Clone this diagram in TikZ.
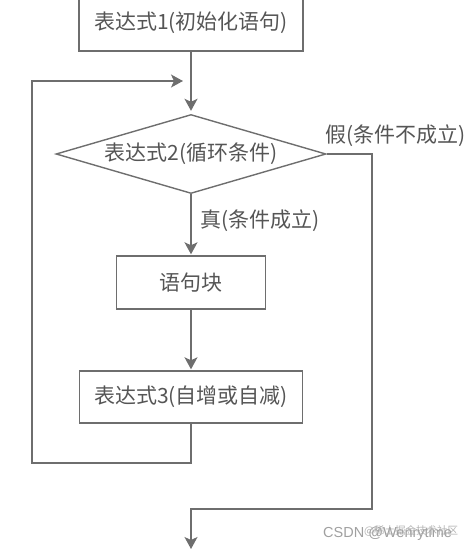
\documentclass[tikz,border=0pt]{standalone}
\usepackage{fontspec}
\setmainfont{Noto Sans CJK SC}
\newfontfamily\wmfont{Liberation Sans}
\newfontfamily\wmcjk{Noto Sans CJK SC}
\usetikzlibrary{arrows.meta,shapes.geometric}
\definecolor{linegray}{HTML}{6E6E6E}
\definecolor{textgray}{HTML}{555555}
\definecolor{wmgray}{HTML}{A0A0A0}
\begin{document}
\begin{tikzpicture}[x=1pt,y=-1pt,
  box/.style={draw=linegray,line width=1.4pt,text=textgray,font=\fontsize{21}{23}\selectfont,inner sep=0pt},
  link/.style={draw=linegray,line width=1.4pt},
  arr/.style={link,-{Stealth[length=12pt,width=13pt,inset=3pt]}},
  lbl/.style={text=textgray,font=\fontsize{21}{23}\selectfont,inner sep=0pt}]
\useasboundingbox (0,0) rectangle (464,551);
\node[box,minimum width=224pt,minimum height=56pt] (e1) at (191,23) {表达式1(初始化语句)};
\node[box,diamond,aspect=3.42,minimum width=270pt,minimum height=79pt] (d) at (191,154) {表达式2(循环条件)};
\node[box,minimum width=149pt,minimum height=53pt] (b) at (191,282.5) {语句块};
\node[box,minimum width=223pt,minimum height=52pt] (e3) at (191,397) {表达式3(自增或自减)};
\node[lbl,anchor=west] (t) at (200,221) {真(条件成立)};
\node[lbl,anchor=west] (f) at (325,136) {假(条件不成立)};
\coordinate (loopend) at (183,81);
\coordinate (exitend) at (191,549);
\draw[arr] (e1.south) -- ([yshift=3pt]d.north);
\draw[arr] (d.south) -- ([yshift=1pt]b.north);
\draw[arr] (b.south) -- ([yshift=1pt]e3.north);
\draw[arr] (e3.south) |- (32,463) |- (loopend);
\draw[arr] (d.east) -| (372,509) -| (exitend);
\node[text=wmgray,font=\wmfont\fontsize{14.5}{16}\selectfont,inner sep=0pt,anchor=west] (wm) at (323,534) {CSDN @Wenrytime};
\node[text=wmgray,font=\wmcjk\fontsize{10.5}{12}\selectfont,inner sep=0pt,anchor=west,opacity=0.8] (wm2) at (364,531) {@稀土掘金技术社区};
\end{tikzpicture}
\end{document}
